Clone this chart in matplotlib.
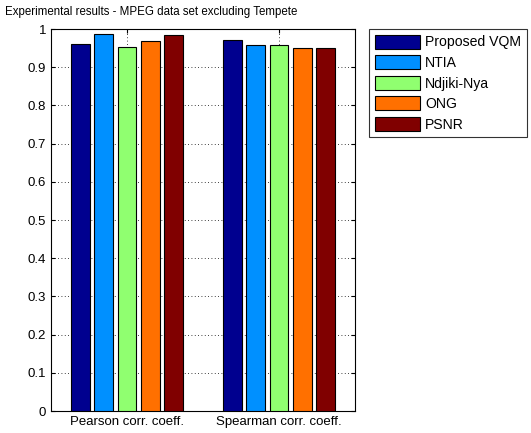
import matplotlib
matplotlib.use("Agg")
import matplotlib.pyplot as plt
import numpy as np

plt.rcParams['font.family'] = ['Liberation Sans', 'DejaVu Sans']

categories = ["Pearson corr. coeff.", "Spearman corr. coeff."]
methods = ["Proposed VQM", "NTIA", "Ndjiki-Nya", "ONG", "PSNR"]
values = {
    "Proposed VQM": [0.961, 0.970],
    "NTIA": [0.988, 0.959],
    "Ndjiki-Nya": [0.953, 0.959],
    "ONG": [0.968, 0.949],
    "PSNR": [0.985, 0.949],
}
colors = ["#00008F", "#0090FF", "#90FF70", "#FF7000", "#800000"]
yticks = np.round(np.arange(0, 1.01, 0.1), 1)

W, H = 531, 433
fig = plt.figure(figsize=(W / 100, H / 100), dpi=100)
ax = fig.add_axes([51 / W, 1 - 411 / H, (355 - 51) / W, (411 - 29) / H])

x = np.arange(1, len(categories) + 1)
n = len(methods)
gw = min(0.8, n / (n + 1.5))
step = gw / n
bw = step * 0.8
for i, (m, c) in enumerate(zip(methods, colors)):
    off = (i - (n - 1) / 2) * step
    ax.bar(x + off, values[m], width=bw, color=c, edgecolor='black', linewidth=0.8, label=m, zorder=3)

ax.set_xlim(0.5, 2.5)
ax.set_ylim(0, 1)
ax.set_yticks(yticks)
ax.set_yticklabels([f"{v:g}" for v in yticks])
ax.set_xticks(x)
ax.set_xticklabels(categories)
ax.tick_params(direction='in', length=3, labelsize=9.5, top=True, right=True, pad=3.5)
ax.grid(True, linestyle=(0, (1, 3)), color='black', linewidth=0.6, zorder=0)
for s in ax.spines.values():
    s.set_linewidth(0.8)

fig.text(5 / W, 1 - 12 / H, "Experimental results - MPEG data set excluding Tempete", fontsize=8.3, va='center', ha='left')

leg = ax.legend(loc='upper left', bbox_to_anchor=(369 / W, 1 - 29 / H), bbox_transform=fig.transFigure,
                fontsize=10.1, frameon=True, fancybox=False, edgecolor='black', borderpad=0.4,
                handlelength=3.2, handleheight=1.15, labelspacing=0.42, handletextpad=0.4, borderaxespad=0)
leg.get_frame().set_linewidth(0.8)

fig.savefig("out.png", dpi=100)
